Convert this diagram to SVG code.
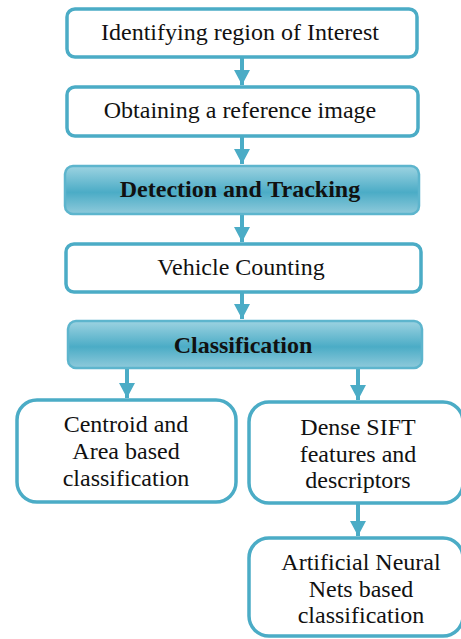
<svg xmlns="http://www.w3.org/2000/svg" width="461" height="639" viewBox="0 0 461 639">
<style>
.box{fill:#ffffff;stroke:#4BACC6;stroke-width:3.5}
.gbox{fill:url(#g);stroke:#5DB5CD;stroke-width:2.5}
.t{font-size:24px;fill:#111;text-anchor:middle}
.b{font-weight:bold}
.c{stroke:#4BACC6;stroke-width:4;fill:none;marker-end:url(#ah)}
</style>
<defs>
<linearGradient id="g" x1="0" y1="0" x2="0" y2="1">
<stop offset="0" stop-color="#9DD3E1"/>
<stop offset="0.55" stop-color="#4BACC6"/>
<stop offset="1" stop-color="#8FCADB"/>
</linearGradient>
<marker id="ah" markerUnits="userSpaceOnUse" markerWidth="16" markerHeight="16" viewBox="0 0 16 16" refX="15" refY="8" orient="auto">
<path d="M0,0 L15,8 L0,16 Z" fill="#4BACC6"/>
</marker>
</defs>
<g id="connectors">
<line class="c" x1="242" y1="57" x2="242" y2="85"/>
<line class="c" x1="242" y1="137" x2="242" y2="164"/>
<line class="c" x1="242" y1="215" x2="242" y2="242"/>
<line class="c" x1="242" y1="293" x2="242" y2="319"/>
<line class="c" x1="127" y1="369" x2="127" y2="398"/>
<line class="c" x1="358" y1="369" x2="358" y2="400"/>
<line class="c" x1="358" y1="504" x2="358" y2="536"/>
</g>
<g font-family="'Liberation Serif', 'Times New Roman', 'DejaVu Serif', serif">
<g id="n1">
<rect class="box" x="67" y="9" width="350" height="48" rx="8"/>
<text class="t" x="240" y="40">Identifying region of Interest</text>
</g>
<g id="n2">
<rect class="box" x="67" y="87" width="351" height="49" rx="8"/>
<text class="t" x="240" y="118">Obtaining a reference image</text>
</g>
<g id="n3">
<rect class="gbox" x="65" y="166" width="354" height="48" rx="8"/>
<text class="t b" x="240" y="197">Detection and Tracking</text>
</g>
<g id="n4">
<rect class="box" x="66" y="244" width="355" height="48" rx="8"/>
<text class="t" x="241" y="275">Vehicle Counting</text>
</g>
<g id="n5">
<rect class="gbox" x="68" y="321" width="354" height="47" rx="8"/>
<text class="t b" x="243" y="353">Classification</text>
</g>
<g id="n6">
<rect class="box" x="17" y="400" width="219" height="102" rx="20"/>
<text class="t" x="126" y="432">Centroid and</text>
<text class="t" x="126" y="459">Area based</text>
<text class="t" x="126" y="486">classification</text>
</g>
<g id="n7">
<rect class="box" x="249" y="402" width="214" height="101" rx="20"/>
<text class="t" x="358" y="435">Dense SIFT</text>
<text class="t" x="358" y="462">features and</text>
<text class="t" x="358" y="488">descriptors</text>
</g>
<g id="n8">
<rect class="box" x="249" y="538" width="214" height="98" rx="20"/>
<text class="t" x="361" y="570">Artificial Neural</text>
<text class="t" x="361" y="597">Nets based</text>
<text class="t" x="361" y="623">classification</text>
</g>
</g>
</svg>
